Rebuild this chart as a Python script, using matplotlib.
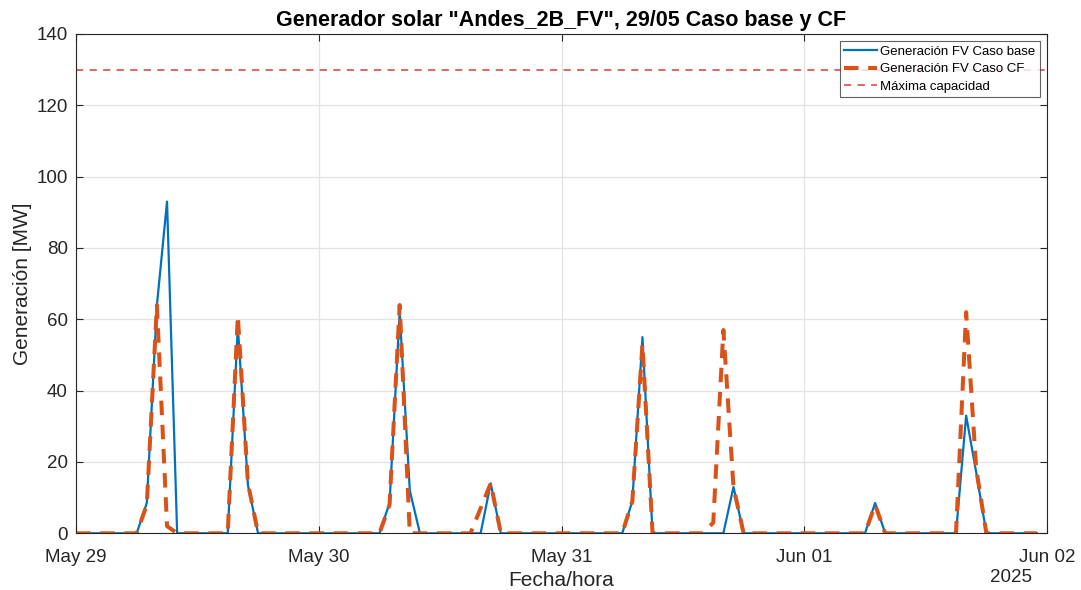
import numpy as np
import pandas as pd
import matplotlib
matplotlib.use("Agg")
import matplotlib.pyplot as plt
import matplotlib.dates as mdates

plt.rcParams['font.family'] = ['Liberation Sans', 'DejaVu Sans']

# hourly series, 29/05/2025 00:00 -> 01/06/2025 23:00
horas = pd.date_range("2025-05-29 00:00", periods=96, freq="h")

# generacion caso base (MW), valores no nulos por hora
base_idx = [7, 8, 9, 16, 17, 31, 32, 33, 41, 55, 56, 65, 79, 88, 89]
base_val = [8.5, 64, 93, 58, 13.5, 8.5, 62, 12, 14, 9, 55, 13, 8.5, 33, 17]

# generacion caso CF (MW)
cf_idx = [7, 8, 9, 16, 17, 31, 32, 40, 41, 55, 56, 63, 64, 65, 79, 88, 89]
cf_val = [8, 64, 2, 61, 14, 8, 64, 7, 14, 9, 53, 3, 57, 13, 8, 62, 18]

cap_max = 130

gen_base = np.zeros(len(horas))
gen_base[base_idx] = base_val
gen_cf = np.zeros(len(horas))
gen_cf[cf_idx] = cf_val

fig = plt.figure(figsize=(10.81, 5.90), dpi=100)
ax = fig.add_axes([0.0703, 0.0961, 0.8983, 0.8463])

ax.plot(horas, gen_base, color='#0072BD', lw=1.6, label='Generación FV Caso base')
ax.plot(horas, gen_cf, color='#D95319', lw=2.9, dashes=(3.6, 2.4),
        label='Generación FV Caso CF')
ax.axhline(cap_max, color='#DD5A5A', lw=1.3, dashes=(4, 3.5),
           label='Máxima capacidad')

ax.set_xlim(pd.Timestamp("2025-05-29"), pd.Timestamp("2025-06-02"))
ax.set_ylim(0, 140)
ax.set_yticks(np.arange(0, 141, 20))
ax.xaxis.set_major_locator(mdates.DayLocator())
ax.xaxis.set_major_formatter(mdates.DateFormatter('%b %d'))

ax.grid(True, color='#E3E3E3', lw=0.9)
ax.set_axisbelow(True)
for s in ax.spines.values():
    s.set_color('#262626')
    s.set_linewidth(0.8)
ax.tick_params(direction='in', length=5, width=0.8, color='#262626',
               labelsize=13.5, labelcolor='#262626', top=True, right=True, pad=6)
ax.tick_params(axis='x', pad=11)

ax.set_title('Generador solar "Andes_2B_FV", 29/05 Caso base y CF',
             fontsize=15.5, fontweight='bold', pad=6)
ax.set_ylabel('Generación [MW]', fontsize=15, color='#262626', labelpad=3)
ax.set_xlabel('Fecha/hora', fontsize=15, color='#262626', labelpad=4)
ax.text(0.9846, -0.0895, '2025', transform=ax.transAxes, ha='right', va='center',
        fontsize=13.5, color='#262626')

leg = ax.legend(loc='upper right', fontsize=9.5, frameon=True, fancybox=False,
                handlelength=2.5, handletextpad=0.2, borderpad=0.35,
                labelspacing=0.38, borderaxespad=0.55)
leg.get_frame().set_edgecolor('#3A3A3A')
leg.get_frame().set_linewidth(0.8)

fig.savefig("out.png", dpi=100)
